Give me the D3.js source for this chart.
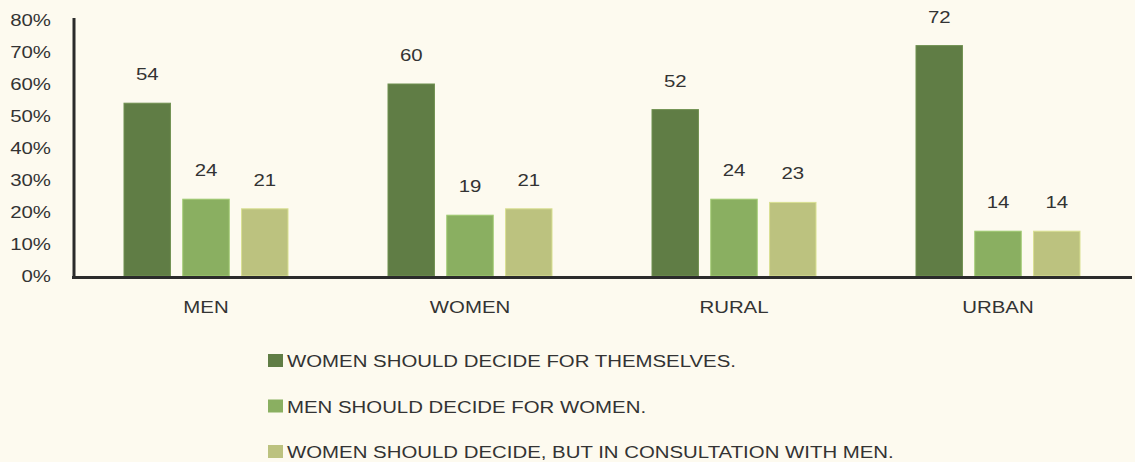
<!DOCTYPE html>
<html><head><meta charset="utf-8">
<script src="https://cdn.jsdelivr.net/npm/d3@7"></script>
<style>
html,body{margin:0;padding:0;background:#fdfaef;}
svg{display:block;font-family:"Liberation Sans",Arial,sans-serif;}
</style></head>
<body><svg id="chart" width="1135" height="462"></svg>
<script>
const categories = ["MEN", "WOMEN", "RURAL", "URBAN"];
const seriesNames = [
  "WOMEN SHOULD DECIDE FOR THEMSELVES.",
  "MEN SHOULD DECIDE FOR WOMEN.",
  "WOMEN SHOULD DECIDE, BUT IN CONSULTATION WITH MEN."
];
const themselves = [54, 60, 52, 72];
const menDecide = [24, 19, 24, 14];
const consultation = [21, 21, 23, 14];
const yTicks = [0, 10, 20, 30, 40, 50, 60, 70, 80];
const colors = ["#607d45", "#8aaf61", "#bcc27f"];

const series = [themselves, menDecide, consultation];
const svg = d3.select("#chart");
const mLeft = 74, mRight = 1130, mTop = 20, mBottom = 276;
const SX = 1.2; // horizontal stretch of text in the reference

const x0 = d3.scaleBand().domain(categories).range([mLeft, mRight]).padding(0);
const x1 = d3.scaleBand().domain(d3.range(series.length)).range([50, 214]).paddingInner(0.21).paddingOuter(0);
const y = d3.scaleLinear().domain([0, 80]).range([mBottom, mTop]);

function place(sel, fx, fy) {
  return sel.attr("transform", (d, i) => `translate(${fx(d, i)},${fy(d, i)}) scale(${SX},1)`);
}

// y tick labels
place(svg.append("g").selectAll("text").data(yTicks).join("text"), () => 51, d => y(d))
  .attr("dy", "0.36em")
  .attr("text-anchor", "end").attr("font-size", 17).attr("fill", "#333")
  .text(d => d + "%");

// bars
const groups = svg.append("g").selectAll("g").data(categories).join("g")
  .attr("transform", d => `translate(${x0(d)},0)`);
groups.each(function(cat, ci) {
  const g = d3.select(this);
  series.forEach((s, si) => {
    g.append("rect")
      .attr("x", x1(si)).attr("width", x1.bandwidth())
      .attr("y", y(s[ci])).attr("height", y(0) - y(s[ci]))
      .attr("fill", colors[si])
      .attr("stroke", d3.color(colors[si]).brighter(0.4)).attr("stroke-width", 1);
    g.append("text")
      .attr("transform", `translate(${x1(si) + x1.bandwidth() / 2},${y(s[ci]) - 23}) scale(${SX},1)`)
      .attr("text-anchor", "middle").attr("font-size", 17).attr("fill", "#333")
      .text(s[ci]);
  });
});

// axes lines
svg.append("line").attr("x1", mLeft).attr("x2", mLeft).attr("y1", 18).attr("y2", 278)
  .attr("stroke", "#2b2b2b").attr("stroke-width", 3);
svg.append("line").attr("x1", 72).attr("x2", 1132).attr("y1", 277.5).attr("y2", 277.5)
  .attr("stroke", "#2b2b2b").attr("stroke-width", 3);

// category labels
place(svg.append("g").selectAll("text").data(categories).join("text"),
      d => x0(d) + x0.bandwidth() / 2, () => 313)
  .attr("text-anchor", "middle").attr("font-size", 17).attr("fill", "#333")
  .text(d => d);

// legend
const lg = svg.append("g").selectAll("g").data(seriesNames).join("g")
  .attr("transform", (d, i) => `translate(268,${361 + i * 45.5})`);
lg.append("rect").attr("x", 0).attr("y", -7).attr("width", 15).attr("height", 13)
  .attr("fill", (d, i) => colors[i]);
lg.append("text").attr("transform", `translate(19,0) scale(${SX},1)`).attr("dy", "0.36em")
  .attr("font-size", 17).attr("fill", "#333").text(d => d);
</script></body></html>
